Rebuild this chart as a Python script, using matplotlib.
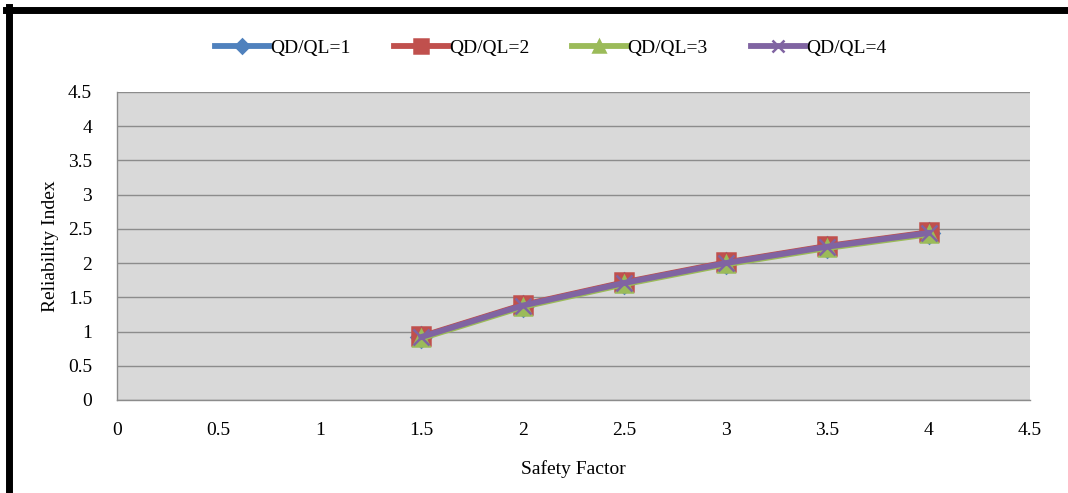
import matplotlib
matplotlib.use("Agg")
import matplotlib.pyplot as plt
from matplotlib.lines import Line2D

safety = [1.5, 2.0, 2.5, 3.0, 3.5, 4.0]
r1 = [0.92, 1.38, 1.71, 2.00, 2.24, 2.44]
r2 = [0.93, 1.39, 1.72, 2.01, 2.25, 2.45]
r3 = [0.90, 1.36, 1.69, 1.98, 2.22, 2.42]
r4 = [0.92, 1.38, 1.71, 2.00, 2.24, 2.44]
labels = ["QD/QL=1", "QD/QL=2", "QD/QL=3", "QD/QL=4"]
xticks = [0, 0.5, 1, 1.5, 2, 2.5, 3, 3.5, 4, 4.5]
yticks = [0, 0.5, 1, 1.5, 2, 2.5, 3, 3.5, 4, 4.5]

plt.rcParams['font.family'] = ['Liberation Serif', 'DejaVu Serif']

fig = plt.figure(figsize=(10.68, 4.93), dpi=100)
ax = fig.add_axes([117 / 1068, 93 / 493, 913 / 1068, 308 / 493])
ax.set_facecolor('#D9D9D9')

styles = [
    ('#4F81BD', 'D', 10, r1),
    ('#C0504D', 's', 13, r2),
    ('#9BBB59', '^', 12, r3),
    ('#8064A2', 'x', 11, r4),
]
for (c, m, ms, ys), lab in zip(styles, labels):
    ax.plot(safety, ys, color=c, lw=4.2, marker=m, ms=ms, mew=1.8,
            mec=c, mfc=c, label=lab)

ax.set_xlim(0, 4.5)
ax.set_ylim(0, 4.5)
ax.set_xticks(xticks)
ax.set_yticks(yticks)
ax.set_xticklabels([f"{v:g}" for v in xticks])
ax.set_yticklabels([f"{v:g}" for v in yticks])
ax.tick_params(axis='x', length=0, labelsize=14, pad=16)
ax.tick_params(axis='y', length=0, labelsize=14, pad=18)
ax.yaxis.grid(True, color='#8C8C8C', lw=1)
ax.set_axisbelow(True)
for s in ['top', 'right']:
    ax.spines[s].set_visible(False)
for s in ['left', 'bottom']:
    ax.spines[s].set_color('#8C8C8C')
    ax.spines[s].set_linewidth(1)

ax.set_xlabel("Safety Factor", fontsize=14, labelpad=15)
ax.set_ylabel("Reliability Index", fontsize=14, labelpad=6)

leg = ax.legend(loc='center', bbox_to_anchor=(0.475, 1.0 + 44 / 308), ncol=4,
                frameon=False, fontsize=14, handlelength=2.8, markerscale=0.75,
                handletextpad=0.05, columnspacing=2.2)

# outer black frame (top and left visible)
fig.add_artist(Line2D([6 / 1068, 1], [1 - 10 / 493, 1 - 10 / 493],
                      color='black', lw=5, transform=fig.transFigure))
fig.add_artist(Line2D([9 / 1068, 9 / 1068], [0, 1 - 7 / 493],
                      color='black', lw=5, transform=fig.transFigure))

fig.savefig("out.png", dpi=100)
